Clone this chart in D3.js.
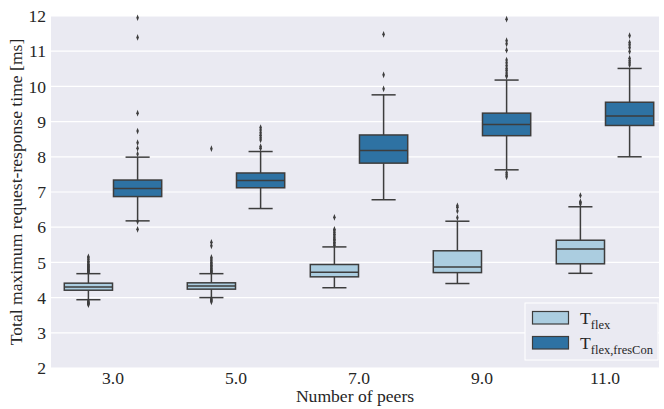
<!DOCTYPE html>
<html lang="en">
<head>
<meta charset="utf-8">
<title>Request-response time boxplot</title>
<style>
  body {
    margin: 0;
    padding: 0;
    background: #ffffff;
  }
</style>
</head>
<body>
<svg id="chart" width="664" height="409"></svg>
<script src="https://d3js.org/d3.v7.min.js"></script>
<script>
// categories on the x axis
const peers = ['3.0', '5.0', '7.0', '9.0', '11.0'];
const yTicks = [2, 3, 4, 5, 6, 7, 8, 9, 10, 11, 12];

// T_flex
const flexLow = [3.94, 4.00, 4.28, 4.40, 4.69];
const flexQ1 = [4.21, 4.24, 4.59, 4.71, 4.96];
const flexMedian = [4.30, 4.33, 4.72, 4.87, 5.38];
const flexQ3 = [4.41, 4.42, 4.94, 5.33, 5.63];
const flexHigh = [4.68, 4.68, 5.44, 6.17, 6.58];
const flexOutliers = [
  [3.80, 3.82, 3.84, 3.86, 3.88, 3.91, 4.72, 4.74, 4.76, 4.78, 4.80, 4.83, 4.86, 4.89, 4.92, 4.95, 4.99, 5.03, 5.08, 5.13, 5.16],
  [3.88, 3.91, 3.94, 3.97, 4.72, 4.75, 4.78, 4.81, 4.84, 4.88, 4.92, 4.96, 5.00, 5.05, 5.10, 5.14, 5.47, 5.57, 8.23],
  [5.49, 5.53, 5.57, 5.62, 5.66, 5.70, 5.75, 5.80, 5.85, 5.90, 5.94, 6.28],
  [6.27, 6.46, 6.57, 6.61],
  [6.66, 6.70, 6.72, 6.90]
];

// T_flex,fresCon
const fresConLow = [6.18, 6.53, 6.78, 7.63, 8.00];
const fresConQ1 = [6.87, 7.12, 7.82, 8.60, 8.89];
const fresConMedian = [7.10, 7.33, 8.18, 8.92, 9.16];
const fresConQ3 = [7.34, 7.54, 8.62, 9.24, 9.55];
const fresConHigh = [7.99, 8.15, 9.76, 10.18, 10.51];
const fresConOutliers = [
  [5.94, 6.16, 8.08, 8.24, 8.40, 8.73, 9.24, 11.39, 11.95],
  [8.24, 8.29, 8.48, 8.54, 8.61, 8.68, 8.76, 8.83],
  [9.93, 10.33, 11.48],
  [7.43, 7.49, 7.55, 10.28, 10.32, 10.38, 10.45, 10.51, 10.59, 10.67, 10.75, 11.03, 11.21, 11.30, 11.91],
  [10.61, 10.67, 10.73, 10.80, 10.99, 11.10, 11.18, 11.25, 11.44]
];

const series = [
  { name: 'flex', color: '#abcde0', low: flexLow, q1: flexQ1, med: flexMedian, q3: flexQ3, high: flexHigh, out: flexOutliers },
  { name: 'flex,fresCon', color: '#2e72a3', low: fresConLow, q1: fresConQ1, med: fresConMedian, q3: fresConQ3, high: fresConHigh, out: fresConOutliers }
];

(function(d3) {
  'use strict';

  var svg = d3.select('#chart');
  var plot = { left: 51, right: 659, top: 16, bottom: 368 };
  var lineColor = '#3d3d3d';
  var font = '"Liberation Serif", "Times New Roman", Times, serif';

  var x = d3.scaleBand().domain(peers).range([51.5, 666.5]);
  var hue = d3.scaleBand().domain(series.map(function(s) { return s.name; }))
    .range([x.bandwidth() * 0.1, x.bandwidth() * 0.9]);
  var y = d3.scaleLinear().domain([2, 12]).range([plot.bottom, plot.top]);

  // background + grid
  svg.append('rect')
    .attr('x', plot.left).attr('y', plot.top)
    .attr('width', plot.right - plot.left).attr('height', plot.bottom - plot.top)
    .attr('fill', '#eaeaf2');

  svg.append('g').selectAll('line').data(yTicks).join('line')
    .attr('x1', plot.left).attr('x2', plot.right)
    .attr('y1', function(d) { return y(d); }).attr('y2', function(d) { return y(d); })
    .attr('stroke', '#ffffff').attr('stroke-width', 1.2);

  // axes (labels only, seaborn darkgrid has no spines)
  var yAxis = svg.append('g')
    .attr('transform', 'translate(' + plot.left + ',0)')
    .call(d3.axisLeft(y).tickValues(yTicks).tickSize(0).tickPadding(5).tickFormat(d3.format('d')));
  yAxis.select('.domain').remove();
  yAxis.attr('font-family', font).attr('font-size', 17.6);
  yAxis.selectAll('text').attr('font-family', font).attr('fill', '#262626');

  var xAxis = svg.append('g')
    .attr('transform', 'translate(0,' + plot.bottom + ')')
    .call(d3.axisBottom(x).tickSize(0).tickPadding(3));
  xAxis.select('.domain').remove();
  xAxis.attr('font-family', font).attr('font-size', 17.6);
  xAxis.selectAll('text').attr('font-family', font).attr('fill', '#262626');

  svg.append('text')
    .attr('x', (plot.left + plot.right) / 2).attr('y', 402)
    .attr('text-anchor', 'middle')
    .attr('font-family', font).attr('font-size', 17.6).attr('fill', '#262626')
    .text('Number of peers');

  svg.append('text')
    .attr('transform', 'translate(22,' + ((plot.top + plot.bottom) / 2) + ') rotate(-90)')
    .attr('text-anchor', 'middle')
    .attr('font-family', font).attr('font-size', 17.6).attr('fill', '#262626')
    .text('Total maximum request-response time [ms]');

  // boxes
  var boxW = hue.bandwidth() * 0.98;
  var capW = boxW / 2;
  var diamond = d3.symbol().type(d3.symbolDiamond).size(9);

  series.forEach(function(s) {
    var g = svg.append('g');
    peers.forEach(function(p, i) {
      var cx = x(p) + hue(s.name) + hue.bandwidth() / 2;

      // whiskers
      g.append('line')
        .attr('x1', cx).attr('x2', cx)
        .attr('y1', y(s.q3[i])).attr('y2', y(s.high[i]))
        .attr('stroke', lineColor).attr('stroke-width', 1.5);
      g.append('line')
        .attr('x1', cx).attr('x2', cx)
        .attr('y1', y(s.q1[i])).attr('y2', y(s.low[i]))
        .attr('stroke', lineColor).attr('stroke-width', 1.5);
      [s.high[i], s.low[i]].forEach(function(v) {
        g.append('line')
          .attr('x1', cx - capW / 2).attr('x2', cx + capW / 2)
          .attr('y1', y(v)).attr('y2', y(v))
          .attr('stroke', lineColor).attr('stroke-width', 1.5);
      });

      g.append('rect')
        .attr('x', cx - boxW / 2).attr('y', y(s.q3[i]))
        .attr('width', boxW).attr('height', y(s.q1[i]) - y(s.q3[i]))
        .attr('fill', s.color)
        .attr('stroke', lineColor).attr('stroke-width', 1.5);

      g.append('line')
        .attr('x1', cx - boxW / 2).attr('x2', cx + boxW / 2)
        .attr('y1', y(s.med[i])).attr('y2', y(s.med[i]))
        .attr('stroke', lineColor).attr('stroke-width', 1.5);

      g.selectAll(null).data(s.out[i]).join('path')
        .attr('d', diamond)
        .attr('transform', function(v) { return 'translate(' + cx + ',' + y(v) + ') scale(0.8,1.2)'; })
        .attr('fill', lineColor);
    });
  });

  // legend
  var legend = svg.append('g').attr('transform', 'translate(525,303)');
  legend.append('rect')
    .attr('width', 133).attr('height', 57)
    .attr('fill', '#eaeaf2')
    .attr('stroke', '#ffffff').attr('stroke-width', 1);

  series.forEach(function(s, i) {
    var row = legend.append('g').attr('transform', 'translate(0,' + (i * 25) + ')');
    row.append('rect')
      .attr('x', 7.5).attr('y', 8.5)
      .attr('width', 36).attr('height', 12.5)
      .attr('fill', s.color)
      .attr('stroke', lineColor).attr('stroke-width', 1.2);
    var t = row.append('text')
      .attr('x', 55).attr('y', 21)
      .attr('font-family', font).attr('font-size', 17.6).attr('fill', '#262626')
      .text('T');
    t.append('tspan')
      .attr('dy', 5)
      .attr('font-size', 12.5)
      .text(s.name);
  });

})(d3);
</script>
</body>
</html>
